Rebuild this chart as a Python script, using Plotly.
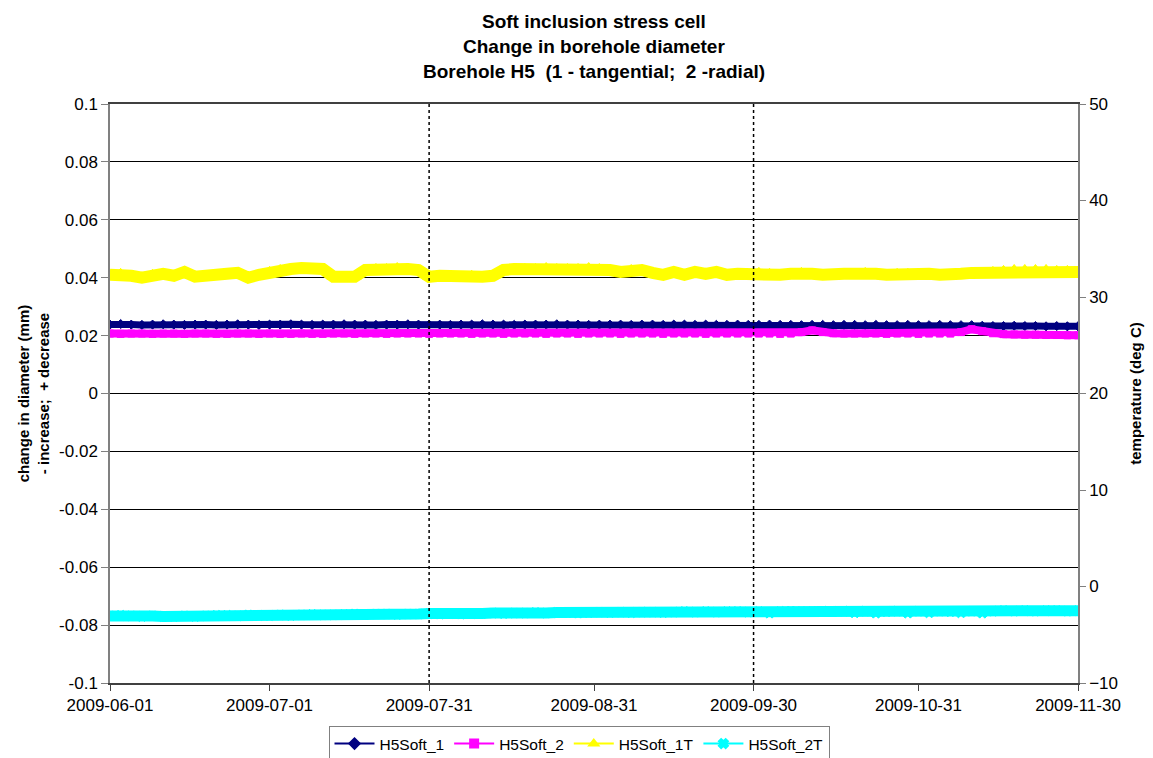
import pandas as pd
import plotly.graph_objects as go

# ---------------- data ----------------
dates = pd.date_range("2009-06-01", "2009-11-30", freq="2D")  # sampling grid

h5soft_1 = [  # change in diameter (mm)
    0.0238, 0.0240, 0.0238, 0.0237, 0.0238, 0.0239, 0.0238, 0.0237, 0.0238, 0.0238,
    0.0237, 0.0238, 0.0239, 0.0238, 0.0237, 0.0238, 0.0238, 0.0239, 0.0238, 0.0237,
    0.0238, 0.0238, 0.0239, 0.0238, 0.0238, 0.0237, 0.0238, 0.0238, 0.0239, 0.0238,
    0.0238, 0.0238, 0.0237, 0.0238, 0.0238, 0.0239, 0.0238, 0.0238, 0.0237, 0.0238,
    0.0238, 0.0238, 0.0239, 0.0238, 0.0238, 0.0237, 0.0238, 0.0238, 0.0238, 0.0237,
    0.0238, 0.0238, 0.0237, 0.0238, 0.0238, 0.0237, 0.0238, 0.0237, 0.0237, 0.0238,
    0.0237, 0.0237, 0.0238, 0.0237, 0.0237, 0.0236, 0.0237, 0.0237, 0.0236, 0.0237,
    0.0237, 0.0236, 0.0237, 0.0236, 0.0236, 0.0237, 0.0236, 0.0236, 0.0237, 0.0236,
    0.0236, 0.0236, 0.0234, 0.0233, 0.0233, 0.0234, 0.0233, 0.0233, 0.0232, 0.0233,
    0.0232, 0.0232,
]
h5soft_2 = [  # change in diameter (mm)
    0.0207, 0.0206, 0.0207, 0.0207, 0.0206, 0.0207, 0.0207, 0.0206, 0.0207, 0.0207,
    0.0206, 0.0206, 0.0207, 0.0207, 0.0206, 0.0207, 0.0206, 0.0206, 0.0207, 0.0206,
    0.0206, 0.0207, 0.0207, 0.0206, 0.0207, 0.0207, 0.0206, 0.0207, 0.0207, 0.0207,
    0.0206, 0.0207, 0.0207, 0.0207, 0.0206, 0.0207, 0.0207, 0.0206, 0.0207, 0.0207,
    0.0207, 0.0206, 0.0207, 0.0207, 0.0206, 0.0207, 0.0207, 0.0207, 0.0206, 0.0207,
    0.0207, 0.0207, 0.0206, 0.0207, 0.0207, 0.0207, 0.0206, 0.0207, 0.0207, 0.0207,
    0.0207, 0.0207, 0.0207, 0.0206, 0.0207, 0.0212, 0.0218, 0.0212, 0.0208, 0.0207,
    0.0207, 0.0207, 0.0207, 0.0206, 0.0207, 0.0207, 0.0206, 0.0207, 0.0207, 0.0207,
    0.0212, 0.0222, 0.0215, 0.0208, 0.0205, 0.0204, 0.0203, 0.0203, 0.0202, 0.0202,
    0.0201, 0.0201,
]
h5soft_1t = [  # temperature (deg C)
    32.3, 32.4, 32.2, 32.0, 32.3, 32.4, 32.2, 32.6, 32.1, 32.1,
    32.2, 32.4, 32.5, 32.0, 32.3, 32.6, 32.8, 32.9, 33.0, 32.9,
    32.9, 32.1, 32.0, 32.1, 32.8, 32.9, 32.9, 33.0, 32.9, 32.8,
    32.1, 32.2, 32.1, 32.1, 32.2, 32.1, 32.2, 32.8, 32.9, 32.9,
    32.9, 33.0, 32.9, 32.9, 32.9, 33.0, 32.9, 32.8, 32.6, 32.8,
    32.8, 32.5, 32.3, 32.6, 32.3, 32.6, 32.4, 32.6, 32.3, 32.4,
    32.3, 32.5, 32.4, 32.3, 32.4, 32.5, 32.4, 32.3, 32.2, 32.4,
    32.4, 32.5, 32.4, 32.3, 32.4, 32.4, 32.3, 32.4, 32.3, 32.2,
    32.4, 32.5, 32.5, 32.6, 32.7, 32.8, 32.8, 32.8, 32.8, 32.7,
    32.7, 32.6,
]
h5soft_2t = [  # temperature (deg C)
    -3.05, -3.00, -3.05, -3.10, -3.05, -3.10, -3.10, -3.05, -3.10, -3.05,
    -3.00, -3.00, -3.05, -2.95, -3.00, -3.00, -2.95, -3.00, -2.95, -2.90,
    -2.95, -2.95, -2.90, -2.85, -2.90, -2.85, -2.85, -2.90, -2.85, -2.85,
    -2.80, -2.85, -2.80, -2.85, -2.80, -2.80, -2.75, -2.80, -2.75, -2.75,
    -2.70, -2.75, -2.70, -2.70, -2.75, -2.70, -2.65, -2.70, -2.65, -2.70,
    -2.65, -2.65, -2.70, -2.65, -2.60, -2.65, -2.60, -2.65, -2.60, -2.60,
    -2.65, -2.60, -2.75, -2.60, -2.55, -2.60, -2.60, -2.55, -2.60, -2.55,
    -2.72, -2.55, -2.75, -2.60, -2.55, -2.75, -2.55, -2.72, -2.55, -2.60,
    -2.72, -2.55, -2.75, -2.55, -2.50, -2.55, -2.50, -2.55, -2.50, -2.50,
    -2.55, -2.50,
]
series_names = ["H5Soft_1", "H5Soft_2", "H5Soft_1T", "H5Soft_2T"]
x_tick_dates = ["2009-06-01", "2009-07-01", "2009-07-31", "2009-08-31",
                "2009-09-30", "2009-10-31", "2009-11-30"]
y_ticks = [-0.1, -0.08, -0.06, -0.04, -0.02, 0, 0.02, 0.04, 0.06, 0.08, 0.1]
y_tick_text = ["-0.1", "-0.08", "-0.06", "-0.04", "-0.02", "0", "0.02", "0.04",
               "0.06", "0.08", "0.1"]
marker_dates = ["2009-07-31", "2009-09-30"]
title_lines = ["Soft inclusion stress cell", "Change in borehole diameter",
               "Borehole H5&nbsp;&nbsp;(1 - tangential;&nbsp;&nbsp;2 -radial)"]

for s in (h5soft_1, h5soft_2, h5soft_1t, h5soft_2t):
    assert len(s) == len(dates)

FONT = "Liberation Sans, Arial, sans-serif"
colors = ["#000080", "#FF00FF", "#FFFF00", "#00FFFF"]
symbols = ["diamond", "square", "triangle-up", "x"]

# page body has an 8px margin: figure sized to fit the 1153x758 window
W, H = 1145, 750
L, R, T, B = 102, 75, 96, 75
plot_h = H - T - B

fig = go.Figure()
series = [(h5soft_1, "y"), (h5soft_2, "y"), (h5soft_1t, "y2"), (h5soft_2t, "y2")]
styles = [dict(lw=7, ms=7), dict(lw=8, ms=7), dict(lw=12, ms=11), dict(lw=11, ms=9)]
for (vals, ax), name, c, sym, st in zip(series, series_names, colors, symbols, styles):
    fig.add_trace(go.Scatter(
        x=dates, y=vals, yaxis=ax, name=name, mode="lines+markers",
        line=dict(color=c, width=st["lw"]),
        marker=dict(color=c, size=st["ms"], symbol=sym, line=dict(color=c, width=1)),
        showlegend=False, hoverinfo="skip"))

# legend-only entries (Excel style thin line + marker)
for name, c, sym in zip(series_names, colors, symbols):
    fig.add_trace(go.Scatter(
        x=[None], y=[None], name=name, mode="lines+markers",
        line=dict(color=c, width=2),
        marker=dict(color=c, size=8, symbol=sym, line=dict(color=c, width=2)),
        showlegend=True))

for d in marker_dates:
    fig.add_shape(type="line", x0=d, x1=d, y0=0, y1=1, xref="x", yref="paper",
                  line=dict(color="black", width=1.5, dash="dot"))

# title, one annotation per line (page centres at y = 21, 46, 71)
for i, line in enumerate(title_lines):
    page_y = 21 + 25 * i
    fig.add_annotation(
        text="<b>" + line + "</b>", xref="paper", yref="paper",
        x=0.5, xanchor="center",
        y=1 + (T + 8 - page_y) / plot_h, yanchor="middle",
        showarrow=False, font=dict(family=FONT, size=19, color="black"))

fig.update_layout(
    width=W, height=H,
    margin=dict(l=L, r=R, t=T, b=B, autoexpand=False),
    paper_bgcolor="white", plot_bgcolor="white",
    font=dict(family=FONT, size=17, color="black"),
    xaxis=dict(
        type="date", range=["2009-06-01", "2009-11-30"],
        tickvals=x_tick_dates, ticktext=x_tick_dates,
        showgrid=False, zeroline=False,
        showline=True, linecolor="#404040", linewidth=1.5,
        ticks="outside", ticklen=6, tickcolor="#404040",
        tickfont=dict(size=17), mirror=True),
    yaxis=dict(
        range=[-0.1, 0.1], tickvals=y_ticks, ticktext=y_tick_text,
        showgrid=True, gridcolor="black", gridwidth=1, zeroline=False,
        showline=True, linecolor="#808080", linewidth=1.5,
        ticks="outside", ticklen=7, tickcolor="#808080",
        tickfont=dict(size=17),
        title=dict(text="<b>change in diameter (mm)</b><br><b>- increase;&nbsp;&nbsp;+ decrease</b>",
                   font=dict(size=15), standoff=6)),
    yaxis2=dict(
        range=[-10, 50], dtick=10, tick0=0, overlaying="y", side="right",
        showgrid=False, zeroline=False,
        showline=True, linecolor="#808080", linewidth=1.5,
        ticks="outside", ticklen=6, tickcolor="#808080",
        tickfont=dict(size=17),
        title=dict(text="<b>temperature (deg C)</b>", font=dict(size=15), standoff=14)),
    legend=dict(
        orientation="h", xref="container", yref="container",
        x=(579 - 8) / W, xanchor="center", y=1 - (726 - 8) / H, yanchor="top",
        bgcolor="white", bordercolor="#808080", borderwidth=1,
        font=dict(size=15.5), itemwidth=40, tracegroupgap=0),
)

fig.write_html("out.html")
